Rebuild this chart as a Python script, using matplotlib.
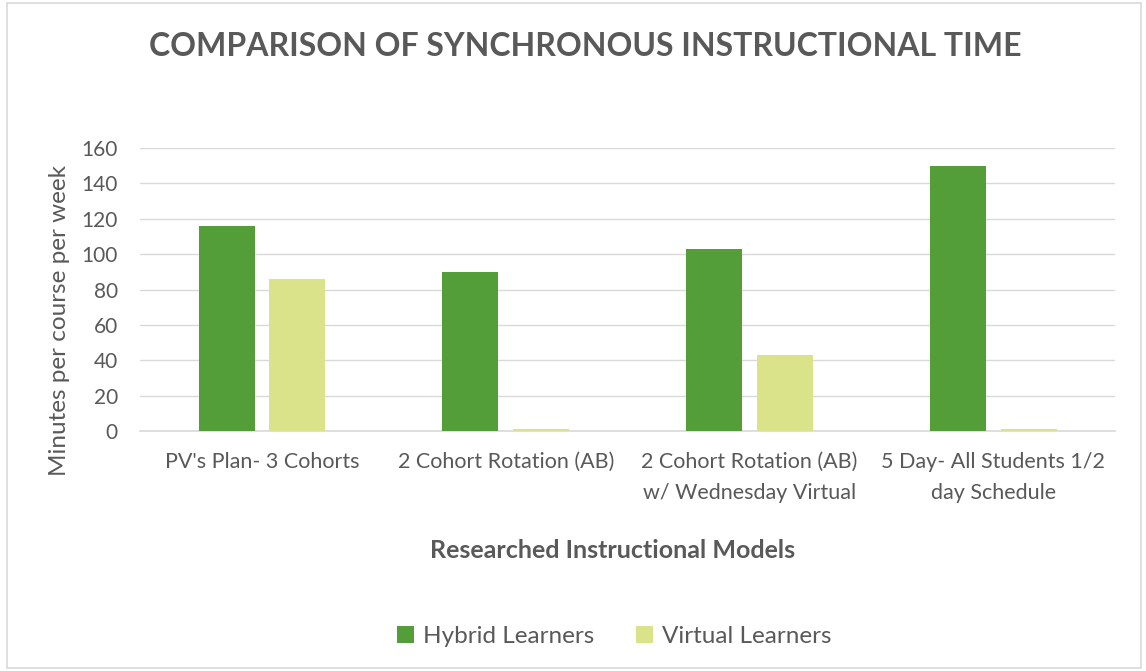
import numpy as np
import matplotlib.pyplot as plt
from matplotlib.patches import Rectangle

# chart data
categories = ["PV's Plan- 3 Cohorts", "2 Cohort Rotation (AB)",
              "2 Cohort Rotation (AB)\nw/ Wednesday Virtual",
              "5 Day- All Students 1/2\nday Schedule"]
hybrid = [116, 90, 103, 150]
virtual = [86, 1, 43, 1]
y_ticks = [0, 20, 40, 60, 80, 100, 120, 140, 160]

plt.rcParams['font.family'] = ['Lato', 'DejaVu Sans']
text_color = '#595959'
grid_color = '#D9D9D9'

fig = plt.figure(figsize=(11.46, 6.71), dpi=100)
ax = fig.add_axes([0.1222, 0.3577, 0.851, 0.4217])

x = np.arange(len(categories))
w = 0.23
ax.bar(x - 0.145, hybrid, w, color='#539E38', label='Hybrid Learners', zorder=3)
ax.bar(x + 0.145, virtual, w, color='#DAE38A', label='Virtual Learners', zorder=3)

ax.set_xlim(-0.5, len(categories) - 0.5)
ax.set_ylim(0, 160)
ax.set_yticks(y_ticks)
ax.set_xticks(x)
ax.set_xticklabels(categories, fontsize=15.5, color=text_color, va='top', linespacing=1.7)
ax.tick_params(axis='y', labelsize=15, labelcolor=text_color, length=0, pad=16)
ax.tick_params(axis='x', length=0, pad=15)
ax.grid(axis='y', color=grid_color, linewidth=1, zorder=0)
for s in ['top', 'right', 'left']:
    ax.spines[s].set_visible(False)
ax.spines['bottom'].set_color(grid_color)
ax.spines['bottom'].set_linewidth(1.2)

# axis titles
fig.text(0.052, 0.523, 'Minutes per course per week', rotation=90, ha='center',
         va='center', fontsize=17.5, color=text_color)
fig.text(0.5345, 0.18, 'Researched Instructional Models', ha='center', va='center',
         fontsize=18, fontweight='bold', color=text_color)

fig.text(0.5105, 0.93, 'COMPARISON OF SYNCHRONOUS INSTRUCTIONAL TIME', ha='center',
         va='center', fontsize=23, fontweight='bold', color=text_color)

fig.legend(loc='center', bbox_to_anchor=(0.536, 0.052), ncol=2, frameon=False,
           fontsize=17.5, labelcolor=text_color, handlelength=0.7, handleheight=0.7,
           columnspacing=1.75, handletextpad=0.35)

fig.patches.append(Rectangle((0.006, 0.004), 0.99, 0.992, transform=fig.transFigure,
                             fill=False, edgecolor=grid_color, linewidth=1.2))

fig.savefig('out.png', dpi=100)
